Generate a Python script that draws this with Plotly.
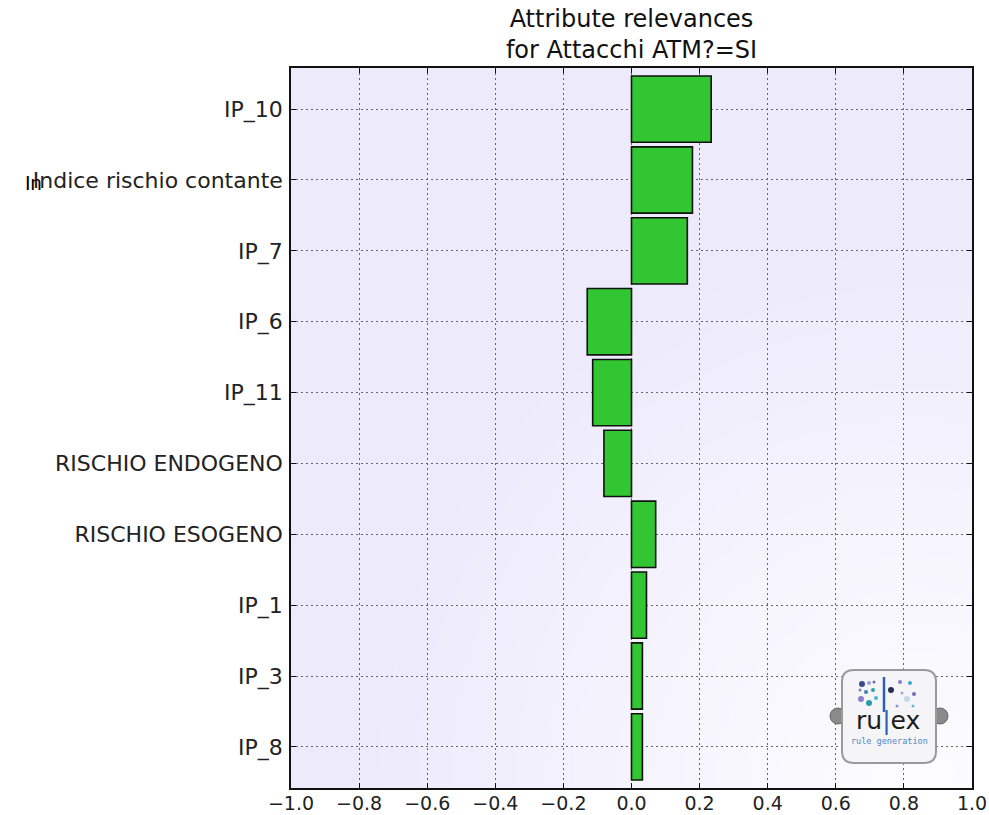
import zlib, struct, base64
import numpy as np
import plotly.graph_objects as go

# ---------------- data ----------------
categories = ["IP_10", "Indice rischio contante", "IP_7", "IP_6", "IP_11",
              "RISCHIO ENDOGENO", "RISCHIO ESOGENO", "IP_1", "IP_3", "IP_8"]
values = [0.234, 0.179, 0.164, -0.130, -0.114, -0.081, 0.071, 0.044, 0.032, 0.032]
x_ticks = [-1.0, -0.8, -0.6, -0.4, -0.2, 0.0, 0.2, 0.4, 0.6, 0.8, 1.0]
title_text = "Attribute relevances<br>for Attacchi ATM?=SI"

# ---------------- layout geometry (page pixels) ----------------
W, H = 989, 815
PL, PR, PT, PB = 291, 972, 68, 788          # plot area on the page
L, R, T, B = PL, W - PR, PT, H - PB
PW, PH = W - L - R, H - T - B


def px(xp):
    return (xp - PL) / PW


def py(yp):
    return (PB - yp) / PH


# ---------------- background gradient (PNG) ----------------
def png_uri(arr):
    h, w, _ = arr.shape
    raw = b"".join(b"\x00" + arr[i].tobytes() for i in range(h))

    def chunk(t, d):
        c = struct.pack(">I", len(d)) + t + d
        return c + struct.pack(">I", zlib.crc32(t + d) & 0xffffffff)

    png = (b"\x89PNG\r\n\x1a\n"
           + chunk(b"IHDR", struct.pack(">IIBBBBB", w, h, 8, 2, 0, 0, 0))
           + chunk(b"IDAT", zlib.compress(raw, 9))
           + chunk(b"IEND", b""))
    return "data:image/png;base64," + base64.b64encode(png).decode()


gw, gh = 227, 240
yy, xx = np.mgrid[0:gh, 0:gw]
xs = xx * PW / gw
ys = yy * PH / gh
d = np.sqrt((xs - 620) ** 2 + (ys - 715) ** 2)
t = np.clip(d / 560.0, 0, 1) ** 1.1
lav = np.array([237, 234, 252], float)
wht = np.array([253, 253, 255], float)
img = (wht[None, None, :] * (1 - t[..., None]) + lav[None, None, :] * t[..., None]).astype(np.uint8)
bg_uri = png_uri(img)

# ---------------- figure ----------------
fig = go.Figure()
fig.add_trace(go.Bar(
    x=values, y=categories, orientation="h",
    marker=dict(color="#33c633", line=dict(color="#111111", width=1.6)),
    showlegend=False, hoverinfo="x+y",
))

font_family = "DejaVu Sans"

shapes = []
annotations = []

# rulex logo (decoration)
shapes.append(dict(type="circle", xref="paper", yref="paper",
                   x0=px(830), x1=px(846), y0=py(724), y1=py(708),
                   fillcolor="#8a8a8a", line=dict(color="#666", width=1)))
shapes.append(dict(type="circle", xref="paper", yref="paper",
                   x0=px(932), x1=px(948), y0=py(724), y1=py(708),
                   fillcolor="#8a8a8a", line=dict(color="#666", width=1)))
x0, x1, y0, y1, r = 842, 936, 670, 763, 12
path = (f"M {px(x0 + r)},{py(y0)} L {px(x1 - r)},{py(y0)} "
        f"Q {px(x1)},{py(y0)} {px(x1)},{py(y0 + r)} L {px(x1)},{py(y1 - r)} "
        f"Q {px(x1)},{py(y1)} {px(x1 - r)},{py(y1)} L {px(x0 + r)},{py(y1)} "
        f"Q {px(x0)},{py(y1)} {px(x0)},{py(y1 - r)} L {px(x0)},{py(y0 + r)} "
        f"Q {px(x0)},{py(y0)} {px(x0 + r)},{py(y0)} Z")
shapes.append(dict(type="path", xref="paper", yref="paper", path=path,
                   fillcolor="#f5f5f7", line=dict(color="#9a9a9a", width=2)))
shapes.append(dict(type="line", xref="paper", yref="paper",
                   x0=px(884), x1=px(884), y0=py(677), y1=py(712),
                   line=dict(color="#2f5fb0", width=2.5)))
dots = [(862, 684, 3, "#3b4a8a"), (869, 683, 2, "#9aa0d8"), (866, 692, 2, "#3f7fb0"),
        (861, 699, 3, "#8c7fc8"), (873, 690, 2, "#2aa0a8"), (869, 703, 3, "#2a9ab0"),
        (876, 698, 2, "#4ab8d0"), (860, 690, 1.5, "#7080c0"), (874, 682, 1.5, "#6a6ab8"),
        (891, 690, 3, "#25305a"), (900, 682, 2, "#8a7ac8"), (910, 683, 2, "#3aa8d0"),
        (914, 694, 2, "#7a68b8"), (907, 699, 3, "#c8d8ec"), (897, 706, 1.5, "#8a9ad0"),
        (913, 706, 1.5, "#6ab8d0"), (902, 693, 1.5, "#b0a0d8")]
for (cx, cy, rr, col) in dots:
    shapes.append(dict(type="circle", xref="paper", yref="paper",
                       x0=px(cx - rr), x1=px(cx + rr), y0=py(cy + rr), y1=py(cy - rr),
                       fillcolor=col, line=dict(width=0)))
annotations.append(dict(xref="paper", yref="paper", x=px(888), y=py(720),
                        xanchor="center", yanchor="middle",
                        text="ru<span style='color:#2f5fb0'>|</span>ex", showarrow=False,
                        font=dict(family="DejaVu Sans", size=25, color="#1c1c1c")))
annotations.append(dict(xref="paper", yref="paper", x=px(889), y=py(741),
                        xanchor="center", yanchor="middle",
                        text="rule generation", showarrow=False,
                        font=dict(family="DejaVu Sans Mono", size=8.5, color="#4f86c8")))

# stray glyphs overlapping the second label, as in the reference
annotations.append(dict(xref="paper", yref="paper", x=px(23), y=py(183),
                        xanchor="left", yanchor="middle", text="In", showarrow=False,
                        font=dict(family="Liberation Sans", size=20, color="#000000")))

fig.update_layout(
    width=W, height=H,
    margin=dict(l=L, r=R, t=T, b=B, pad=0, autoexpand=False),
    paper_bgcolor="white",
    plot_bgcolor="rgba(0,0,0,0)",
    bargap=0.065,
    title=dict(text=title_text, x=0.5, xref="paper", xanchor="center",
               y=1 - 26.5 / H, yref="container", yanchor="top",
               font=dict(family=font_family, size=24, color="#111111")),
    font=dict(family=font_family, color="#222222"),
    images=[dict(source=bg_uri, xref="paper", yref="paper", x=0, y=1,
                 sizex=1, sizey=1, sizing="stretch", layer="below",
                 xanchor="left", yanchor="top")],
    shapes=shapes,
    annotations=annotations,
)

fig.update_xaxes(
    range=[-1.0, 1.0], tickvals=x_ticks, tickformat=".1f",
    showgrid=True, gridcolor="#666666", griddash="1.5px,3.5px", gridwidth=1,
    zeroline=False, showline=True, linecolor="#111111", linewidth=1.5, mirror="ticks",
    ticks="inside", ticklen=5, tickcolor="#111111",
    tickfont=dict(family=font_family, size=19, color="#222222"),
    ticklabelstandoff=-3, automargin=False, ticklabeloverflow="allow",
    layer="above traces",
)
fig.update_yaxes(
    type="category", categoryorder="array", categoryarray=categories,
    range=[9.58, -0.58],
    showgrid=True, gridcolor="#666666", griddash="1.5px,3.5px", gridwidth=1,
    zeroline=False, showline=True, linecolor="#111111", linewidth=1.5, mirror="ticks",
    ticks="inside", ticklen=5, tickcolor="#111111",
    tickfont=dict(family=font_family, size=22, color="#222222"),
    ticklabelstandoff=2, automargin=False, ticklabeloverflow="allow",
    layer="above traces",
)

fig.write_html(
    "out.html",
    config={"displayModeBar": False},
    post_script="document.body.style.margin='0';document.body.style.overflow='hidden';",
)
